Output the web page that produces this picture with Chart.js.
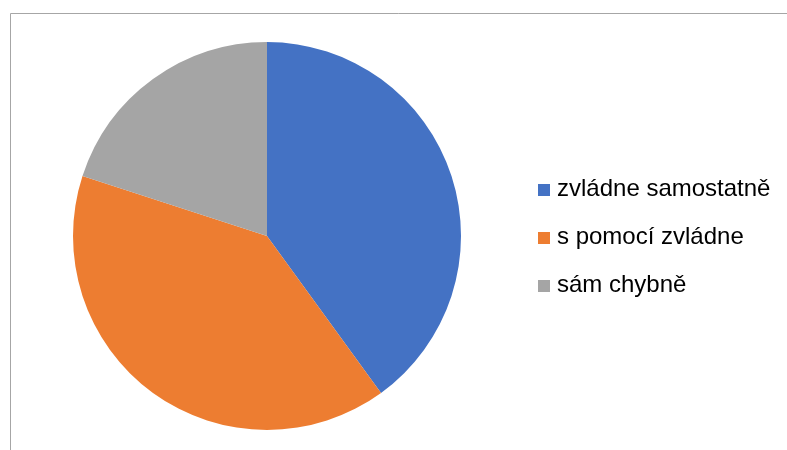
<!DOCTYPE html>
<html>
<head>
<meta charset="utf-8">
<script src="https://cdn.jsdelivr.net/npm/chart.js@4/dist/chart.umd.min.js"></script>
<style>
html,body{margin:0;padding:0;background:#fff;}
#wrap{position:relative;width:787px;height:450px;}
</style>
</head>
<body>
<div id="wrap"><canvas id="c" width="787" height="450"></canvas></div>
<script>
const categories = ["zvládne samostatně", "s pomocí zvládne", "sám chybně"];
const values = [40, 40, 20];
const colors = ["#4472C4", "#ED7D31", "#A5A5A5"];

const framePlugin = {
  id: 'frame',
  beforeDraw(chart) {
    const ctx = chart.ctx;
    ctx.save();
    ctx.fillStyle = '#fff';
    ctx.fillRect(0, 0, chart.width, chart.height);
    ctx.strokeStyle = '#a6a6a6';
    ctx.lineWidth = 1;
    ctx.beginPath();
    ctx.moveTo(10.5, 450);
    ctx.lineTo(10.5, 13.5);
    ctx.lineTo(787, 13.5);
    ctx.stroke();
    ctx.restore();
  }
};

const legendPlugin = {
  id: 'customLegend',
  afterDraw(chart) {
    const ctx = chart.ctx;
    const labels = chart.data.labels;
    const bg = chart.data.datasets[0].backgroundColor;
    ctx.save();
    ctx.font = '24px "Liberation Sans", Arial, sans-serif';
    ctx.textBaseline = 'alphabetic';
    labels.forEach((lab, i) => {
      const y = 196 + i * 48;
      ctx.fillStyle = bg[i];
      ctx.fillRect(538, y - 12, 12, 12);
      ctx.fillStyle = '#000';
      ctx.fillText(lab, 557, y);
    });
    ctx.restore();
  }
};

new Chart(document.getElementById('c'), {
  type: 'pie',
  data: {
    labels: categories,
    datasets: [{
      data: values,
      backgroundColor: colors,
      borderWidth: 0
    }]
  },
  options: {
    responsive: false,
    animation: false,
    layout: { padding: { left: 73, right: 326, top: 42, bottom: 20 } },
    plugins: {
      legend: { display: false },
      tooltip: { enabled: false }
    }
  },
  plugins: [framePlugin, legendPlugin]
});
</script>
</body>
</html>
